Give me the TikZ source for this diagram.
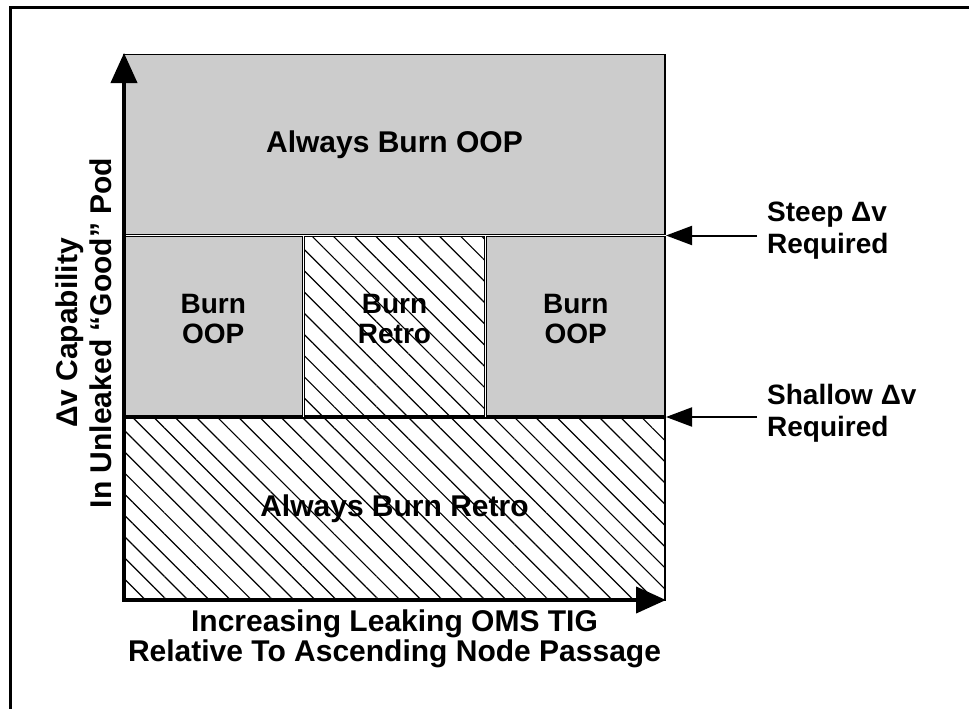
\documentclass[tikz,border=0pt]{standalone}
\usepackage{fontspec}
\setmainfont{Liberation Sans}
\usetikzlibrary{arrows.meta,patterns.meta}
\definecolor{cellgray}{gray}{0.8}
\tikzset{
  region/.style={draw=black, line width=1.5pt, inner sep=0pt, align=center,
    font=\bfseries\fontsize{30}{34}\selectfont},
  celltext/.style={font=\bfseries\fontsize{28}{30}\selectfont, align=center,
    inner sep=0pt, yshift=7pt},
  graycell/.style={region, fill=cellgray},
  hatchcell/.style={region, pattern={Lines[angle=-45,distance=15pt,line width=1.2pt]}},
  axisline/.style={line width=4pt, line join=miter,
    {Triangle[length=30pt,width=26pt]}-{Triangle[length=30pt,width=26pt]}},
  pointer/.style={line width=2pt, -{Triangle[length=26pt,width=19pt]}},
  sidelab/.style={font=\bfseries\fontsize{28}{32}\selectfont, align=left,
    inner xsep=10pt, inner ysep=0pt, anchor=west},
  axlab/.style={font=\bfseries\fontsize{30}{30}\selectfont, align=center, inner sep=0pt},
  ylabstyle/.style={font=\bfseries\fontsize{30}{34}\selectfont, align=center, inner sep=0pt},
  framepen/.style={line width=3pt}
}
\begin{document}
\begin{tikzpicture}[x=1pt,y=-1pt]
\useasboundingbox (0,0) rectangle (969,709);
\draw[framepen] (10,709) -- (10,7.5) -- (969,7.5);

\node[graycell, minimum width=541pt, minimum height=180pt] (top) at (394.5,144.5) {Always Burn OOP};
\node[graycell, minimum width=178.5pt, minimum height=179.5pt,
  label={[celltext]center:{Burn\\OOP}}] (midL) at (213.25,326.25) {};
\node[hatchcell, minimum width=180pt, minimum height=179.5pt,
  label={[celltext]center:{Burn\\Retro}}] (midC) at (394.5,326.25) {};
\node[graycell, minimum width=178.5pt, minimum height=179.5pt,
  label={[celltext]center:{Burn\\OOP}}] (midR) at (575.75,326.25) {};
\node[hatchcell, minimum width=541pt, minimum height=182pt] (bot) at (394.5,509) {Always Burn Retro};

\coordinate (origin) at (124,600);
\coordinate (ytip) at (124,53);
\coordinate (xtip) at (666,600);
\draw[axisline] (ytip) -- (origin) -- (xtip);

\node[sidelab] (steep) at (757,231) {Steep Δv\\Required};
\coordinate (steepTip) at (666,235.5);
\draw[pointer] (steep.west |- steepTip) -- (steepTip);

\node[sidelab] (shallow) at (757,413) {Shallow Δv\\Required};
\coordinate (shallowTip) at (666,417);
\draw[pointer] (shallow.west |- shallowTip) -- (shallowTip);

\node[ylabstyle, rotate=90] (ylab) at (84,333) {Δv Capability\\In Unleaked “Good” Pod};
\node[axlab] (xlab) at (394.5,639) {Increasing Leaking OMS TIG\\Relative To Ascending Node Passage};
\end{tikzpicture}
\end{document}
